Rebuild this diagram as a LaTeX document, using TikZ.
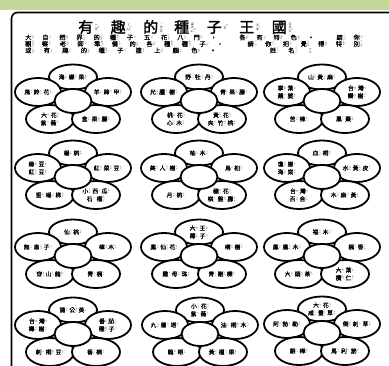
\documentclass[tikz,border=0pt]{standalone}
\usepackage{fontspec}
\newfontfamily\cjk{Noto Sans CJK TC}
\newfontfamily\cjkm{Noto Sans CJK TC}[FakeBold=0.9]
\newfontfamily\cjkb{Noto Sans CJK TC}[FakeBold=1.8]
\usetikzlibrary{shapes.geometric}
\definecolor{bandgreen}{RGB}{196,215,155}

% ---- bopomofo (zhuyin) annotation machinery ----
\newbox\bpbox
\newdimen\bpsz \bpsz=1.6pt
\def\bpl#1{\ifx\relax#1\else\hbox to\bpsz{\hss\vrule height.95\bpsz depth.1\bpsz width0pt #1\hss}\expandafter\bpl\fi}
\def\bpclassify#1{\ifx#1ˊ\def\bptone{#1}\else\ifx#1ˇ\def\bptone{#1}\else\ifx#1ˋ\def\bptone{#1}\else\expandafter\def\expandafter\bpsyms\expandafter{\bpsyms#1}\fi\fi\fi}
\def\bpscan#1{\ifx\relax#1\else\bpclassify{#1}\expandafter\bpscan\fi}
\def\bp#1{\def\bptone{}\def\bpsyms{}\bpscan#1\relax
  \setbox\bpbox\hbox{\cjk\fontsize{\the\bpsz}{\the\bpsz}\selectfont
    \vbox{\offinterlineskip\expandafter\bpl\bpsyms\relax}%
    \ifx\bptone\empty\else\kern-.15\bpsz\raise.35\bpsz\hbox{\bptone}\fi}%
  \kern.1em\raise\dimexpr.36em-(\ht\bpbox-\dp\bpbox)/2\relax\box\bpbox}
\def\zzEnd{zzend-marker}
\def\zsep{\kern1.2pt}
\def\zch#1{\mbox{#1\ifcsname bp:#1\endcsname\expandafter\expandafter\expandafter\bp\expandafter\expandafter\expandafter{\csname bp:#1\endcsname}\fi}}
\def\zzA#1{\ifx#1\zzEnd\else\zpre\let\zpre\zsep\zch{#1}\expandafter\zzA\fi}
\def\zz#1{\let\zpre\relax\zzA#1\zzEnd}
\def\defpyitem#1#2\relax{\expandafter\gdef\csname bp:#1\endcsname{#2}}
\foreach \x in {有ㄧㄡˇ,趣ㄑㄩˋ,的˙ㄉㄜ,種ㄓㄨㄥˇ,子ㄗˇ,王ㄨㄤˊ,國ㄍㄨㄛˊ,
大ㄉㄚˋ,自ㄗˋ,然ㄖㄢˊ,界ㄐㄧㄝˋ,五ㄨˇ,花ㄏㄨㄚ,八ㄅㄚ,門ㄇㄣˊ,各ㄍㄜˋ,特ㄊㄜˋ,色ㄙㄜˋ,請ㄑㄧㄥˇ,你ㄋㄧˇ,
觀ㄍㄨㄢ,察ㄔㄚˊ,老ㄌㄠˇ,師ㄕ,準ㄓㄨㄣˇ,備ㄅㄟˋ,把ㄅㄚˇ,覺ㄐㄩㄝˊ,得ㄉㄜˊ,別ㄅㄧㄝˊ,
或ㄏㄨㄛˋ,塗ㄊㄨˊ,上ㄕㄤˋ,顏ㄧㄢˊ,姓ㄒㄧㄥˋ,名ㄇㄧㄥˊ,
海ㄏㄞˇ,檬ㄇㄥˊ,果ㄍㄨㄛˇ,風ㄈㄥ,鈴ㄌㄧㄥˊ,羊ㄧㄤˊ,蹄ㄊㄧˊ,甲ㄐㄧㄚˇ,紫ㄗˇ,薇ㄨㄟˊ,盒ㄏㄜˊ,藤ㄊㄥˊ,
野ㄧㄝˇ,牡ㄇㄨˇ,丹ㄉㄢ,光ㄍㄨㄤ,臘ㄌㄚˋ,樹ㄕㄨˋ,青ㄑㄧㄥ,桃ㄊㄠˊ,心ㄒㄧㄣ,木ㄇㄨˋ,黃ㄏㄨㄤˊ,夾ㄐㄧㄚˊ,竹ㄓㄨˊ,
山ㄕㄢ,麻ㄇㄚˊ,掌ㄓㄤˇ,葉ㄧㄝˋ,蘋ㄆㄧㄥˊ,婆ㄆㄛˊ,台ㄊㄞˊ,灣ㄨㄢ,欒ㄌㄨㄢˊ,苦ㄎㄨˇ,楝ㄌㄧㄢˋ,黑ㄏㄟ,棗ㄗㄠˇ,
楊ㄧㄤˊ,綠ㄌㄩˋ,豆ㄉㄡˋ,紅ㄏㄨㄥˊ,菜ㄘㄞˋ,垂ㄔㄨㄟˊ,柳ㄌㄧㄡˇ,小ㄒㄧㄠˇ,西ㄒㄧ,瓜ㄍㄨㄚ,石ㄕˊ,榴ㄌㄧㄡˊ,
柚ㄧㄡˋ,美ㄇㄟˇ,人ㄖㄣˊ,烏ㄨ,桕ㄐㄧㄡˋ,月ㄩㄝˋ,穗ㄙㄨㄟˋ,棋ㄑㄧˊ,盤ㄆㄢˊ,腳ㄐㄧㄠˇ,
血ㄒㄧㄝˇ,桐ㄊㄨㄥˊ,瓊ㄑㄩㄥˊ,崖ㄧㄚˊ,棠ㄊㄤˊ,水ㄕㄨㄟˇ,皮ㄆㄧˊ,百ㄅㄞˇ,合ㄏㄜˊ,
仙ㄒㄧㄢ,無ㄨˊ,患ㄏㄨㄢˋ,樟ㄓㄤ,穿ㄔㄨㄢ,龍ㄌㄨㄥˊ,楓ㄈㄥ,椰ㄧㄝˊ,鳳ㄈㄥˋ,構ㄍㄡˋ,雞ㄐㄧ,母ㄇㄨˇ,珠ㄓㄨ,剛ㄍㄤ,櫟ㄌㄧˋ,
福ㄈㄨˊ,凰ㄏㄨㄤˊ,香ㄒㄧㄤ,頭ㄊㄡˊ,茶ㄔㄚˊ,欖ㄌㄢˇ,仁ㄖㄣˊ,
蒲ㄆㄨˊ,公ㄍㄨㄥ,英ㄧㄥ,櫸ㄐㄩˇ,番ㄈㄢ,茄ㄑㄧㄝˊ,刺ㄘˋ,楠ㄋㄢˊ,
九ㄐㄧㄡˇ,層ㄘㄥˊ,塔ㄊㄚˇ,油ㄧㄡˊ,眼ㄧㄢˇ,槿ㄐㄧㄣˇ,咸ㄒㄧㄢˊ,豐ㄈㄥ,草ㄘㄠˇ,阿ㄚ,勃ㄅㄛˊ,勒ㄌㄜˋ,倒ㄉㄠˋ,銀ㄧㄣˊ,樺ㄏㄨㄚˋ,馬ㄇㄚˇ,利ㄌㄧˋ,筋ㄐㄧㄣ}{\expandafter\defpyitem\x\relax}

\newcommand\pfont{\cjkm\fontsize{5.8pt}{7.8pt}\selectfont}
\newcommand\bodyfont{\cjkm\fontsize{6.2pt}{6.5pt}\selectfont}
\newcommand\titlefont{\cjkb\fontsize{15pt}{16pt}\selectfont}

\newcommand\seedflower[8]{%
\begin{scope}[shift={(#2,#3)}]
\node[petal,minimum width=48pt,minimum height=25pt] (#1-top) at (0,-24) {#4};
\node[petal,minimum width=46pt,minimum height=28pt] (#1-left) at (-35,-9) {#5};
\node[petal,minimum width=46pt,minimum height=28pt] (#1-right) at (35,-9) {#6};
\node[petal,minimum width=48pt,minimum height=28pt] (#1-ll) at (-23,18) {#7};
\node[petal,minimum width=48pt,minimum height=28pt] (#1-lr) at (23,18) {#8};
\node[petal,minimum width=37pt,minimum height=24pt] (#1-c) at (0,0) {};
\end{scope}}

\begin{document}
\begin{tikzpicture}[x=1pt,y=-1pt,
  petal/.style={ellipse,draw,fill=white,line width=1.8pt,inner sep=0pt,align=center,font=\pfont},
  textline/.style={anchor=west,inner sep=0pt,font=\bodyfont}]
\useasboundingbox (0,0) rectangle (389,366);
\clip (0,0) rectangle (389,366);
\fill[bandgreen] (0,0) rectangle (389,10);
\draw[line width=1.6pt,rounded corners=6pt] (395,12.5) -- (11.5,12.5) -- (11.5,375);

\node[anchor=west,inner sep=0pt,font=\titlefont] (title) at (78,27)
  {\bpsz=3.4pt\def\zsep{\hfil}\hbox to 215pt{\zz{有趣的種子王國}}};
\node[textline] (line1) at (25,37.5)
  {\bpsz=1.9pt\def\zsep{\hfil}\hbox to 338pt{\zz{大自然界的種子五花八門，}\hskip0pt plus3fil\zz{各有特色。}\hskip0pt plus3fil\zz{請你}}};
\node[textline] (line2) at (25,44)
  {\bpsz=1.9pt\def\zsep{\hfil}\hbox to 338pt{\zz{觀察老師準備的各種種子，}\hskip0pt plus3fil\zz{請你把覺得特別}}};
\node[textline] (line3) at (25,50.5)
  {\bpsz=1.9pt\def\zsep{\hfil}\hbox to 288pt{\zz{或有趣的種子塗上顏色。}\hskip0pt plus6fil\zz{姓名：}}};

\seedflower{a1}{73}{101}{\zz{海檬果}}{\zz{風鈴花}}{\zz{羊蹄甲}}{\zz{大花}\\\zz{紫薇}}{\zz{盒果藤}}
\seedflower{a2}{199}{101}{\zz{野牡丹}}{\zz{光臘樹}}{\zz{青果藤}}{\zz{桃花}\\\zz{心木}}{\zz{黃花}\\\zz{夾竹桃}}
\seedflower{a3}{322}{101}{\zz{山黃麻}}{\zz{掌葉}\\\zz{蘋婆}}{\zz{台灣}\\\zz{欒樹}}{\zz{苦楝}}{\zz{黑棗}}
\seedflower{b1}{73}{177}{\zz{楊桃}}{\zz{綠豆}\\\zz{紅豆}}{\zz{紅菜豆}}{\zz{垂楊柳}}{\zz{小西瓜}\\\zz{石榴}}
\seedflower{b2}{199}{177}{\zz{柚木}}{\zz{美人樹}}{\zz{烏桕}}{\zz{月桃}}{\zz{穗花}\\\zz{棋盤腳}}
\seedflower{b3}{322}{177}{\zz{血桐}}{\zz{瓊崖}\\\zz{海棠}}{\zz{水黃皮}}{\zz{台灣}\\\zz{百合}}{\zz{木麻黃}}
\seedflower{c1}{73}{256}{\zz{仙桃}}{\zz{無患子}}{\zz{樟木}}{\zz{穿山龍}}{\zz{青楓}}
\seedflower{c2}{199}{256}{\zz{大王}\\\zz{椰子}}{\zz{鳳仙花}}{\zz{構樹}}{\zz{雞母珠}}{\zz{青剛櫟}}
\seedflower{c3}{322}{256}{\zz{福木}}{\zz{鳳凰木}}{\zz{楓香}}{\zz{大頭茶}}{\zz{大葉}\\\zz{欖仁}}
\seedflower{d1}{73}{334}{\zz{蒲公英}}{\zz{台灣}\\\zz{櫸樹}}{\zz{番茄}\\\zz{種子}}{\zz{刺桐豆}}{\zz{香楠}}
\seedflower{d2}{200}{334}{\zz{小花}\\\zz{紫薇}}{\zz{九層塔}}{\zz{油桐木}}{\zz{龍眼}}{\zz{黃槿果}}
\seedflower{d3}{322}{333}{\zz{大花}\\\zz{咸豐草}}{\zz{阿勃勒}}{\zz{倒刺草}}{\zz{銀樺}}{\zz{馬利筋}}
\end{tikzpicture}
\end{document}
